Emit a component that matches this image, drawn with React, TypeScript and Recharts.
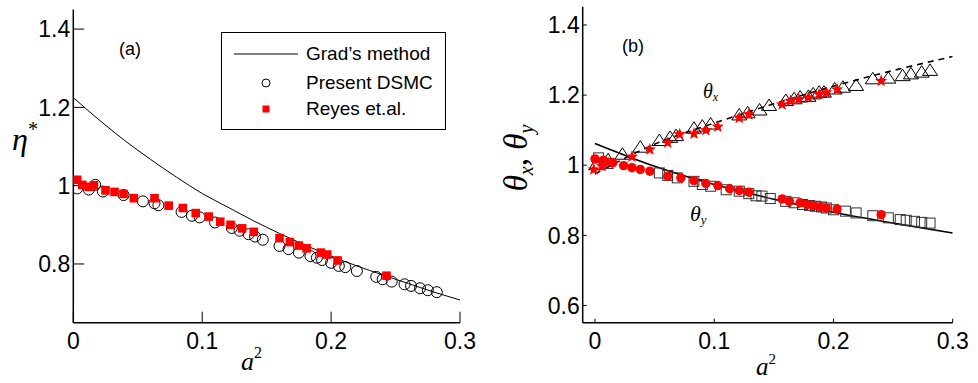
import React from 'react';
import { ComposedChart, Line, Scatter, XAxis, YAxis, Legend } from 'recharts';

// ---- panel (a): eta* vs a^2 ----
const gradA2 = [0, 0.02, 0.04, 0.06, 0.08, 0.1, 0.12, 0.14, 0.16, 0.18, 0.2, 0.22, 0.24, 0.26, 0.28, 0.3];
const gradEta = [1.225, 1.168, 1.115, 1.067, 1.022, 0.98, 0.945, 0.91, 0.878, 0.848, 0.82, 0.795, 0.772, 0.75, 0.728, 0.708];

const dsmcA2 = [0.003, 0.012, 0.017, 0.023, 0.039, 0.054, 0.063, 0.066, 0.084, 0.092, 0.098, 0.11, 0.123, 0.129, 0.136, 0.141, 0.147,
  0.16, 0.167, 0.175, 0.184, 0.189, 0.193, 0.2, 0.206, 0.211, 0.22, 0.235, 0.24, 0.247, 0.257, 0.262, 0.269, 0.275, 0.282];
const dsmcEta = [0.993, 0.99, 1.002, 0.985, 0.976, 0.96, 0.955, 0.95, 0.933, 0.923, 0.919, 0.906, 0.892, 0.885, 0.876, 0.87, 0.862,
  0.846, 0.838, 0.829, 0.82, 0.816, 0.81, 0.803, 0.795, 0.792, 0.782, 0.767, 0.761, 0.755, 0.748, 0.744, 0.738, 0.733, 0.728];

const reyesA2 = [0.003, 0.007, 0.012, 0.016, 0.025, 0.032, 0.039, 0.047, 0.063, 0.074, 0.085, 0.095, 0.105, 0.114, 0.122, 0.131, 0.14,
  0.16, 0.168, 0.175, 0.181, 0.192, 0.197, 0.205, 0.243];
const reyesEta = [1.015, 1.002, 0.997, 1.001, 0.988, 0.984, 0.979, 0.968, 0.968, 0.949, 0.943, 0.93, 0.921, 0.908, 0.9, 0.891, 0.882,
  0.866, 0.856, 0.847, 0.84, 0.829, 0.824, 0.809, 0.77];

// ---- panel (b): theta_x, theta_y vs a^2 ----
const lineA2 = [0, 0.05, 0.1, 0.15, 0.2, 0.25, 0.3];
const gradThx = [0.975, 1.06, 1.12, 1.175, 1.225, 1.27, 1.31];
const gradThy = [1.062, 0.997, 0.945, 0.903, 0.866, 0.835, 0.807];

const triA2 = [0.001, 0.011, 0.023, 0.038, 0.054, 0.063, 0.068, 0.083, 0.09, 0.097, 0.121, 0.128, 0.138, 0.146, 0.16, 0.167, 0.172,
  0.179, 0.183, 0.188, 0.192, 0.201, 0.208, 0.219, 0.233, 0.246, 0.258, 0.265, 0.274, 0.281];
const triThx = [1.0, 1.014, 1.03, 1.05, 1.069, 1.078, 1.083, 1.104, 1.11, 1.116, 1.142, 1.148, 1.156, 1.169, 1.183, 1.188, 1.193,
  1.195, 1.202, 1.207, 1.207, 1.216, 1.221, 1.226, 1.245, 1.247, 1.254, 1.259, 1.264, 1.269];

const starA2 = [-0.001, 0.006, 0.011, 0.031, 0.046, 0.061, 0.071, 0.083, 0.093, 0.103, 0.121, 0.129, 0.157, 0.164, 0.171, 0.179,
  0.188, 0.194, 0.203, 0.24];
const starThx = [0.988, 0.997, 1.007, 1.024, 1.045, 1.064, 1.088, 1.09, 1.1, 1.11, 1.135, 1.145, 1.173, 1.183, 1.188, 1.193,
  1.202, 1.207, 1.216, 1.24];

const sqA2 = [0.003, 0.011, 0.054, 0.061, 0.069, 0.083, 0.09, 0.097, 0.11, 0.121, 0.129, 0.135, 0.14, 0.147, 0.16, 0.167, 0.174,
  0.18, 0.185, 0.19, 0.194, 0.2, 0.21, 0.219, 0.233, 0.246, 0.256, 0.261, 0.268, 0.274, 0.281];
const sqThy = [1.021, 1.005, 0.978, 0.971, 0.964, 0.954, 0.945, 0.94, 0.93, 0.926, 0.919, 0.913, 0.912, 0.905, 0.897, 0.893, 0.888,
  0.885, 0.883, 0.881, 0.878, 0.873, 0.869, 0.864, 0.856, 0.85, 0.845, 0.843, 0.84, 0.837, 0.835];

const dotA2 = [0, 0.007, 0.015, 0.024, 0.031, 0.038, 0.046, 0.061, 0.072, 0.083, 0.093, 0.103, 0.113, 0.121, 0.129, 0.157, 0.163,
  0.172, 0.178, 0.183, 0.189, 0.194, 0.203, 0.24];
const dotThy = [1.018, 1.014, 1.007, 0.999, 0.993, 0.988, 0.983, 0.969, 0.964, 0.956, 0.948, 0.942, 0.933, 0.928, 0.923, 0.904, 0.897,
  0.893, 0.888, 0.885, 0.881, 0.878, 0.875, 0.859];

const xTicks = [0, 0.1, 0.2, 0.3];
const yTicksA = [0.8, 1, 1.2, 1.4];
const yTicksB = [0.6, 0.8, 1, 1.2, 1.4];

const legendItems = ["Grad\u2019s method", 'Present DSMC', 'Reyes et.al.'];

const zip = (xs: number[], ys: number[]) => xs.map((x, i) => ({ x, y: ys[i] }));

const RED = '#ff0000';
const SANS = '"Liberation Sans", Arial, sans-serif';
const SERIF = '"Liberation Serif", "Times New Roman", serif';

const Ring = (p: any) => <circle cx={p.cx} cy={p.cy} r={5.5} fill="none" stroke="#000" strokeWidth={1} />;
const RedSquare = (p: any) => <rect x={p.cx - 4.3} y={p.cy - 4.3} width={8.6} height={8.6} fill={RED} />;
const Tri = (p: any) => (
  <polygon points={`${p.cx},${p.cy - 7} ${p.cx - 7.5},${p.cy + 4.5} ${p.cx + 7.5},${p.cy + 4.5}`}
    fill="none" stroke="#000" strokeWidth={1} />
);
const Sq = (p: any) => <rect x={p.cx - 5} y={p.cy - 5} width={10} height={10} fill="none" stroke="#333" strokeWidth={1} />;
const RedDot = (p: any) => <circle cx={p.cx} cy={p.cy} r={4.7} fill={RED} />;
const Star = (p: any) => {
  const pts: string[] = [];
  for (let k = 0; k < 10; k++) {
    const r = k % 2 === 0 ? 6.5 : 2.8;
    const a = -Math.PI / 2 + (k * Math.PI) / 5;
    pts.push(`${p.cx + r * Math.cos(a)},${p.cy + r * Math.sin(a)}`);
  }
  return <polygon points={pts.join(' ')} fill={RED} />;
};

const axisLine = { stroke: '#000', strokeWidth: 1.5 };
const tickLine = { stroke: '#000', strokeWidth: 1 };
const tickFont = { fill: '#000', fontSize: 23, fontFamily: SANS };

function LegendBox() {
  return (
    <div style={{ width: 225, height: 98, border: '1.2px solid #000', background: '#fff', boxSizing: 'border-box',
      position: 'relative', fontFamily: SANS, fontSize: 19, color: '#000' }}>
      <svg width={80} height={98} style={{ position: 'absolute', left: 0, top: 0 }}>
        <line x1={12} x2={76} y1={21} y2={21} stroke="#000" strokeWidth={1} />
        <circle cx={44} cy={50} r={4} fill="none" stroke="#000" strokeWidth={1} />
        <rect x={40.5} y={72.5} width={7} height={7} fill={RED} />
      </svg>
      {legendItems.map((t, i) => (
        <div key={t} style={{ position: 'absolute', left: 84, top: [21, 50, 76][i] - 12, lineHeight: '24px', whiteSpace: 'nowrap' }}>{t}</div>
      ))}
    </div>
  );
}

export default function App() {
  const grad = zip(gradA2, gradEta);
  const dsmc = zip(dsmcA2, dsmcEta);
  const reyes = zip(reyesA2, reyesEta);
  const thx = zip(lineA2, gradThx);
  const thy = zip(lineA2, gradThy);
  const tri = zip(triA2, triThx);
  const star = zip(starA2, starThx);
  const sq = zip(sqA2, sqThy);
  const dot = zip(dotA2, dotThy);

  return (
    <div style={{ position: 'absolute', left: 0, top: 0, width: 978, height: 383, background: '#fff' }}>
      <div style={{ position: 'absolute', left: 0, top: 0 }}>
        <ComposedChart width={490} height={383} margin={{ top: 9.5, right: 30, bottom: 20.3, left: 13.3 }}>
          <XAxis xAxisId="b" dataKey="x" type="number" domain={[0, 0.3]} ticks={xTicks} height={40}
            tickSize={-11} tickMargin={21} axisLine={axisLine} tickLine={tickLine} tick={tickFont} allowDataOverflow />
          <XAxis xAxisId="t" orientation="top" dataKey="x" type="number" domain={[0, 0.3]} ticks={xTicks} height={0}
            tickSize={-11} axisLine={axisLine} tickLine={tickLine} tick={false} allowDataOverflow />
          <YAxis yAxisId="l" type="number" domain={[0.65, 1.45]} ticks={yTicksA} width={60}
            tickSize={-11} tickMargin={14} axisLine={axisLine} tickLine={tickLine} tick={tickFont} allowDataOverflow />
          <YAxis yAxisId="r" orientation="right" type="number" domain={[0.65, 1.45]} ticks={yTicksA} width={0}
            tickSize={-11} axisLine={axisLine} tickLine={tickLine} tick={false} allowDataOverflow />
          <Line xAxisId="b" yAxisId="l" data={grad} dataKey="y" type="monotone" stroke="#000" strokeWidth={1}
            dot={false} isAnimationActive={false} />
          <Scatter xAxisId="b" yAxisId="l" data={dsmc} dataKey="y" shape={Ring} isAnimationActive={false} />
          <Scatter xAxisId="b" yAxisId="l" data={reyes} dataKey="y" shape={RedSquare} isAnimationActive={false} />
          <Legend layout="vertical" align="center" verticalAlign="middle" content={() => <LegendBox />}
            wrapperStyle={{ left: 221, top: 32, width: 225, height: 98 }} />
        </ComposedChart>
      </div>
      <div style={{ position: 'absolute', left: 490, top: 0 }}>
        <ComposedChart width={488} height={383} margin={{ top: 6.7, right: 25.3, bottom: 20.3, left: 32.7 }}>
          <XAxis xAxisId="b" dataKey="x" type="number" domain={[-0.0103, 0.3]} ticks={xTicks} height={40}
            tickSize={-4} tickMargin={13.6} axisLine={axisLine} tickLine={tickLine} tick={tickFont} allowDataOverflow />
          <XAxis xAxisId="t" orientation="top" dataKey="x" type="number" domain={[-0.0103, 0.3]} ticks={xTicks} height={0}
            tickSize={-4} axisLine={axisLine} tickLine={tickLine} tick={false} allowDataOverflow />
          <YAxis yAxisId="l" type="number" domain={[0.551, 1.452]} ticks={yTicksB} width={60}
            tickSize={-4} tickMargin={7} axisLine={axisLine} tickLine={tickLine} tick={tickFont} allowDataOverflow />
          <YAxis yAxisId="r" orientation="right" type="number" domain={[0.551, 1.452]} ticks={yTicksB} width={0}
            tickSize={-4} axisLine={axisLine} tickLine={tickLine} tick={false} allowDataOverflow />
          <Scatter xAxisId="b" yAxisId="l" data={sq} dataKey="y" shape={Sq} isAnimationActive={false} />
          <Scatter xAxisId="b" yAxisId="l" data={tri} dataKey="y" shape={Tri} isAnimationActive={false} />
          <Line xAxisId="b" yAxisId="l" data={thy} dataKey="y" type="monotone" stroke="#000" strokeWidth={1.6}
            dot={false} isAnimationActive={false} />
          <Line xAxisId="b" yAxisId="l" data={thx} dataKey="y" type="monotone" stroke="#000" strokeWidth={1.6}
            strokeDasharray="6 5" dot={false} isAnimationActive={false} />
          <Scatter xAxisId="b" yAxisId="l" data={dot} dataKey="y" shape={RedDot} isAnimationActive={false} />
          <Scatter xAxisId="b" yAxisId="l" data={star} dataKey="y" shape={Star} isAnimationActive={false} />
        </ComposedChart>
      </div>
      <svg width={978} height={383} style={{ position: 'absolute', left: 0, top: 0, pointerEvents: 'none' }}>
        <text x={119} y={55} fontFamily={SANS} fontSize={18}>(a)</text>
        <text x={622} y={52} fontFamily={SANS} fontSize={18}>(b)</text>
        <text x={12} y={150} fontFamily={SERIF} fontStyle="italic" fontSize={32}>
          η<tspan fontSize={20} dy={-14} fontStyle="normal">*</tspan>
        </text>
        <text x={241} y={370} fontFamily={SERIF} fontStyle="italic" fontSize={26}>
          a<tspan fontSize={16} dy={-12} fontStyle="normal">2</tspan>
        </text>
        <text x={756} y={375} fontFamily={SERIF} fontStyle="italic" fontSize={25}>
          a<tspan fontSize={15} dy={-11} fontStyle="normal">2</tspan>
        </text>
        <text x={527} y={158} transform="rotate(-90 527 158)" textAnchor="middle" fontFamily={SERIF} fontStyle="italic" fontSize={33}>
          θ<tspan fontSize={20} dy={6}>x</tspan><tspan dy={-6} fontStyle="normal">, </tspan>θ<tspan fontSize={20} dy={6}>y</tspan>
        </text>
        <text x={703} y={98} fontFamily={SERIF} fontStyle="italic" fontSize={20}>
          θ<tspan fontSize={12} dy={3}>x</tspan>
        </text>
        <text x={690} y={221} fontFamily={SERIF} fontStyle="italic" fontSize={22}>
          θ<tspan fontSize={13} dy={3}>y</tspan>
        </text>
      </svg>
    </div>
  );
}
